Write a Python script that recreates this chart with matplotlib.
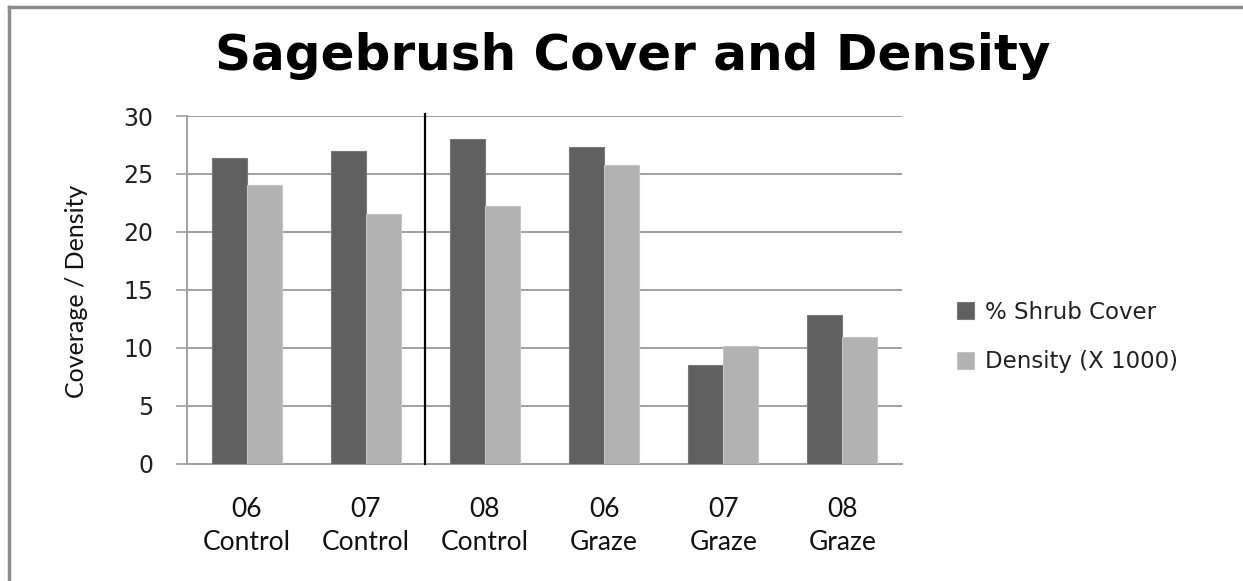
import matplotlib
matplotlib.use("Agg")
import matplotlib.pyplot as plt
import numpy as np

years = ["06", "07", "08", "06", "07", "08"]
groups = ["Control", "Control", "Control", "Graze", "Graze", "Graze"]
shrub_cover = [26.4, 26.95, 28.0, 27.3, 8.5, 12.8]
density = [24.05, 21.5, 22.2, 25.75, 10.15, 10.95]
series_names = ["% Shrub Cover", "Density (X 1000)"]
yticks = [0, 5, 10, 15, 20, 25, 30]

W, H = 1243, 581
fig = plt.figure(figsize=(W / 100, H / 100), dpi=100)
fig.patch.set_facecolor("white")

ax = fig.add_axes([187 / W, 1 - 463.5 / H, (902 - 187) / W, (463.5 - 116) / H])

x = np.arange(len(years))
bw = 0.294
ax.bar(x - bw / 2, shrub_cover, bw, color="#606060", edgecolor="#7a7a7a", linewidth=0.8,
       label=series_names[0], zorder=3)
ax.bar(x + bw / 2, density, bw, color="#b2b2b2", edgecolor="#c4c4c4", linewidth=0.8,
       label=series_names[1], zorder=3)

ax.set_xlim(-0.5, len(years) - 0.5)
ax.set_ylim(0, 30)
ax.set_yticks(yticks)
ax.set_yticklabels([str(t) for t in yticks], fontfamily="DejaVu Sans", fontsize=17, color="#222222")
ax.yaxis.grid(True, color="#a0a0a0", linewidth=1.4, zorder=0)
ax.set_axisbelow(True)
ax.tick_params(axis="y", length=8, width=1.2, color="#a0a0a0", pad=16)
ax.tick_params(axis="x", length=0, pad=24)
ax.set_xticks(x)
ax.set_xticklabels([f"{yy}\n{g}" for yy, g in zip(years, groups)], fontfamily="Lato",
                   fontsize=19, color="#111111", linespacing=1.4)

for s in ["top", "right"]:
    ax.spines[s].set_visible(False)
ax.spines["left"].set_color("#a0a0a0")
ax.spines["left"].set_linewidth(1.4)
ax.spines["bottom"].set_color("#a0a0a0")
ax.spines["bottom"].set_linewidth(1.4)

# separator line
ax.plot([1.5, 1.5], [0, 30.15], color="black", linewidth=1.6, zorder=4, clip_on=False)

fig.text(77 / W, 1 - 291 / H, "Coverage / Density", rotation=90, ha="center", va="center",
         fontfamily="Lato", fontsize=18, color="#111111")

fig.text(633 / W, 1 - 70 / H, "Sagebrush Cover and Density", ha="center", va="baseline",
         fontfamily="DejaVu Sans", fontweight="bold", fontsize=36, color="black")

leg = ax.legend(loc="center left", bbox_to_anchor=(936 / W, 1 - 337 / H),
                bbox_transform=fig.transFigure, frameon=False, prop={"family": "DejaVu Sans", "size": 16.5},
                handlelength=0.75, handleheight=0.75, handletextpad=0.5, labelspacing=1.15)
for t in leg.get_texts():
    t.set_color("#222222")

# figure border (left & top)
fig.add_artist(plt.Line2D([9 / W, 9 / W], [0, 1 - 7 / H], transform=fig.transFigure,
                          color="#8c8c8c", linewidth=2.5))
fig.add_artist(plt.Line2D([9 / W, 1], [1 - 7 / H, 1 - 7 / H], transform=fig.transFigure,
                          color="#8c8c8c", linewidth=2.5))

fig.savefig("out.png", dpi=100, facecolor="white")
